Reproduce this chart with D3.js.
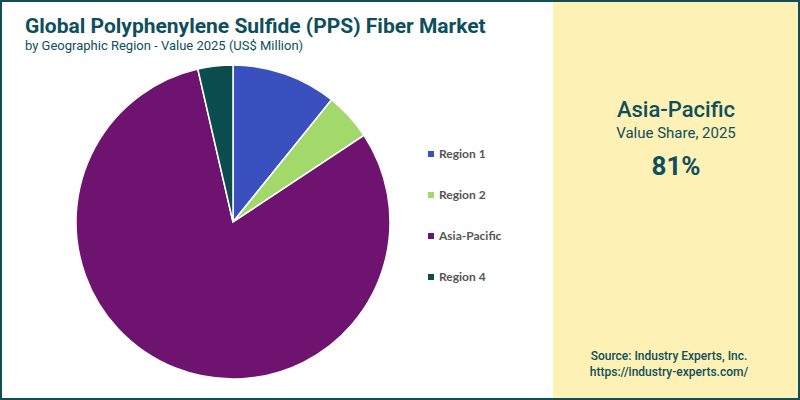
<!DOCTYPE html>
<html><head><meta charset="utf-8">
<script src="https://cdn.jsdelivr.net/npm/d3@7"></script>
<style>body{margin:0}svg{display:block}</style></head>
<body><svg id="c" width="800" height="400"></svg>
<script>
const categories = ["Region 1","Region 2","Asia-Pacific","Region 4"];
const values = [10.8, 4.9, 80.7, 3.6];
const colors = ["#3a50bf","#a3d86a","#6e1470","#0b4d4f"];
const svg = d3.select("#c");
const teal = "#0e4f5b";
svg.append("rect").attr("x",0).attr("y",0).attr("width",800).attr("height",400).attr("fill","#fff");
svg.append("rect").attr("x",553).attr("y",0).attr("width",247).attr("height",400).attr("fill","#fdf1b5");
svg.append("rect").attr("x",1).attr("y",1).attr("width",798).attr("height",398).attr("fill","none").attr("stroke",teal).attr("stroke-width",2);
svg.append("text").attr("x",25).attr("y",33).attr("font-family","Roboto").attr("font-weight","bold").attr("font-size",21).attr("fill",teal).text("Global Polyphenylene Sulfide (PPS) Fiber Market");
svg.append("text").attr("x",25).attr("y",50).attr("font-family","Roboto").attr("font-size",13).attr("fill",teal).text("by Geographic Region - Value 2025 (US$ Million)");
const pie = d3.pie().sort(null).value(d=>d)(values);
const arc = d3.arc().innerRadius(0).outerRadius(157);
const g = svg.append("g").attr("transform","translate(233,222)");
g.selectAll("path").data(pie).join("path").attr("d",arc).attr("fill",(d,i)=>colors[i]).attr("stroke","#fff").attr("stroke-width",1.5);
const y = d3.scalePoint().domain(categories).range([154,277]);
const lg = svg.append("g");
categories.forEach((c,i)=>{
  lg.append("rect").attr("x",428).attr("y",y(c)-3).attr("width",6).attr("height",6).attr("fill",colors[i]);
  lg.append("text").attr("x",439).attr("y",y(c)+4).attr("font-family","Lato").attr("font-weight","bold").attr("font-size",12).attr("fill","#555").text(c);
});
const cx=676;
svg.append("text").attr("x",cx).attr("y",117).attr("text-anchor","middle").attr("font-family","Roboto").attr("font-weight",500).attr("font-size",22).attr("fill",teal).text("Asia-Pacific");
svg.append("text").attr("x",cx).attr("y",138).attr("text-anchor","middle").attr("font-family","Roboto").attr("font-size",15).attr("fill",teal).text("Value Share, 2025");
svg.append("text").attr("x",cx).attr("y",175).attr("text-anchor","middle").attr("font-family","Roboto").attr("font-weight","bold").attr("font-size",26).attr("fill",teal).text("81%");
svg.append("text").attr("x",cx-7).attr("y",360).attr("text-anchor","middle").attr("font-family","Roboto").attr("font-weight",500).attr("font-size",12).attr("fill",teal).text("Source: Industry Experts, Inc.");
svg.append("text").attr("x",cx-7).attr("y",376).attr("text-anchor","middle").attr("font-family","Roboto").attr("font-weight",500).attr("font-size",12).attr("fill",teal).text("https://industry-experts.com/");
</script></body></html>
